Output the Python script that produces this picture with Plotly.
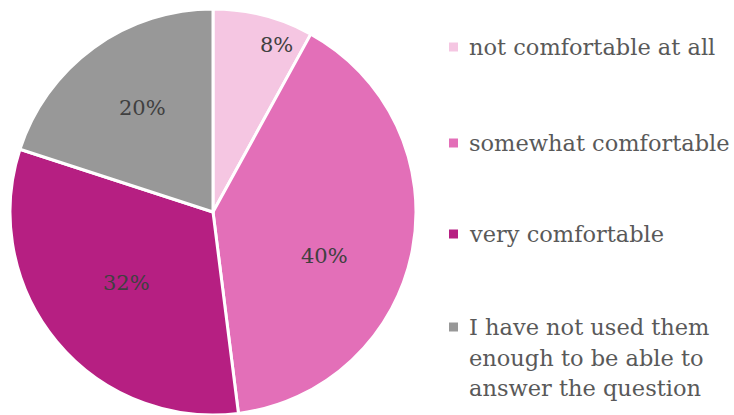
import math
import plotly.graph_objects as go

# Survey answers and their shares (percent)
labels = [
    "not comfortable at all",
    "somewhat comfortable",
    "very comfortable",
    "I have not used them enough to be able to answer the question",
]
legend_lines = [
    ["not comfortable at all"],
    ["somewhat comfortable"],
    ["very comfortable"],
    ["I have not used them", "enough to be able to", "answer the question"],
]
values = [8, 40, 32, 20]
colors = ["#F5C6E2", "#E36FB8", "#B61F82", "#989898"]

# Placement of the percent labels inside each slice:
# fraction of the radius, and angular nudge (degrees) from the slice middle
label_radius = [0.88, 0.59, 0.55, 0.62]
label_nudge = [6.5, 11, 0, 2]

W, H = 734, 415
FONT = "DejaVu Serif"

# Pie geometry in pixels
cx, cy, R = 213, 212, 203

fig = go.Figure(
    go.Pie(
        labels=labels,
        values=values,
        sort=False,
        direction="clockwise",
        rotation=0,
        marker=dict(colors=colors, line=dict(color="white", width=3)),
        textinfo="none",
        showlegend=False,
        hoverinfo="label+percent",
        domain=dict(x=[(cx - R) / W, (cx + R) / W], y=[0, (H - cy + R) / H]),
    )
)

# Percent labels at each slice's angular middle (clockwise from 12 o'clock)
total = sum(values)
start = 0.0
for v, rf, nudge in zip(values, label_radius, label_nudge):
    share = v / total
    mid = (start + share / 2) * 360 + nudge
    start += share
    px = cx + rf * R * math.sin(math.radians(mid))
    py = cy - rf * R * math.cos(math.radians(mid))
    fig.add_annotation(
        x=px / W, y=1 - py / H, xref="paper", yref="paper",
        xanchor="center", yanchor="middle", showarrow=False,
        text=f"{share:.0%}",
        font=dict(family=FONT, size=21, color="#404040"),
    )

# Legend drawn as square swatches with text beside them
legend_y = [47, 143, 234, 327]
line_gap = 30.5
for lines, col, y in zip(legend_lines, colors, legend_y):
    fig.add_shape(
        type="rect", xref="paper", yref="paper",
        x0=449 / W, x1=458 / W, y0=1 - (y + 4.5) / H, y1=1 - (y - 4.5) / H,
        fillcolor=col, line=dict(width=0),
    )
    for i, txt in enumerate(lines):
        fig.add_annotation(
            x=467 / W, y=1 - (y + i * line_gap) / H, xref="paper", yref="paper",
            xanchor="left", yanchor="middle", align="left",
            text=txt, showarrow=False,
            font=dict(family=FONT, size=22.5, color="#595959"),
        )

fig.update_layout(
    width=W, height=H,
    margin=dict(l=0, r=0, t=0, b=0),
    paper_bgcolor="white",
    plot_bgcolor="white",
)

fig.write_html("out.html")
